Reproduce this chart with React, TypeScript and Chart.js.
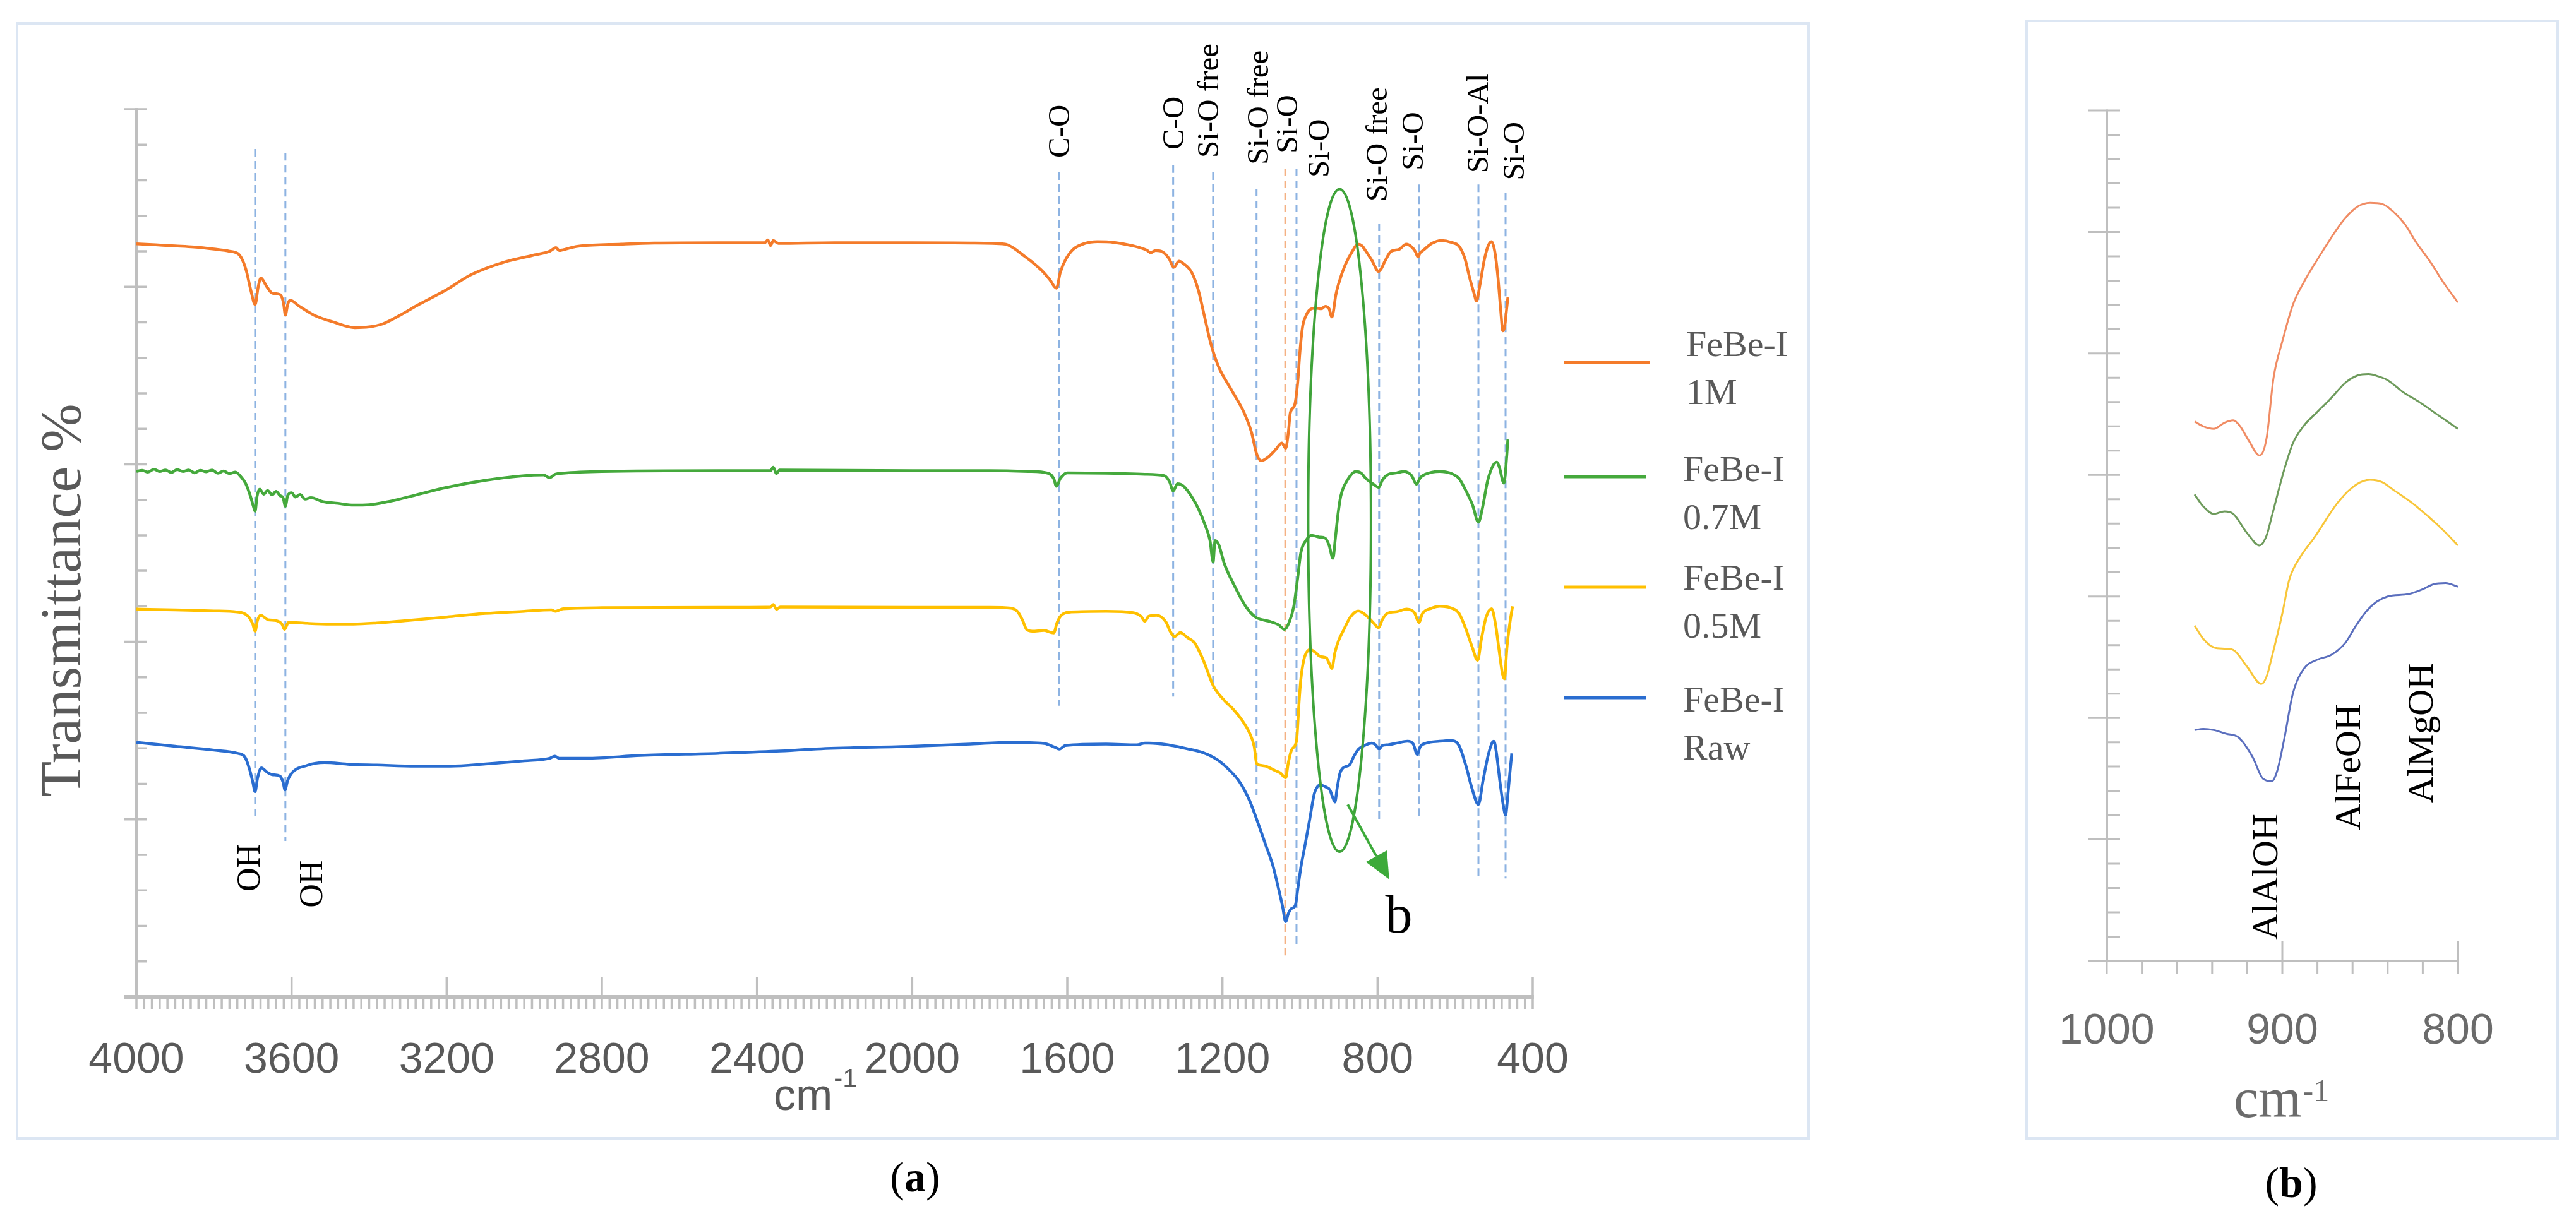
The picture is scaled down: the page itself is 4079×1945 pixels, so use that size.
import React, { useEffect, useRef } from 'react';
import { Chart, registerables } from 'chart.js';

Chart.register(...registerables);

type Pt = [number, number];

// ---------------- Panel (a) data: [wavenumber cm-1, transmittance (offset units)] ----------------
const SERIES_NAMES = ['FeBe-I 1M', 'FeBe-I 0.7M', 'FeBe-I 0.5M', 'FeBe-I Raw'];
const LEGEND_LINES = [['FeBe-I', '1M'], ['FeBe-I', '0.7M'], ['FeBe-I', '0.5M'], ['FeBe-I', 'Raw']];
const X_TICKS_A = [4000, 3600, 3200, 2800, 2400, 2000, 1600, 1200, 800, 400];
const X_TICKS_B = [1000, 900, 800];

const fe1M: Pt[] = [
  [4000, 21.21], [3950, 21.18], [3900, 21.15], [3852, 21.12], [3800, 21.06], [3760, 21.0], [3735, 20.9], [3718, 20.5],
  [3705, 19.9], [3694, 19.5], [3686, 20.0], [3679, 20.25], [3665, 20.02], [3650, 19.82], [3630, 19.78], [3621, 19.55],
  [3616, 19.2], [3610, 19.5], [3604, 19.62], [3580, 19.45], [3542, 19.2], [3490, 19.0], [3437, 18.85], [3400, 18.87],
  [3366, 18.95], [3320, 19.2], [3272, 19.5], [3200, 19.92], [3137, 20.34], [3050, 20.7], [2980, 20.88], [2934, 21.0],
  [2918, 21.1], [2910, 21.02], [2900, 21.04], [2880, 21.1], [2854, 21.15], [2750, 21.2], [2665, 21.23], [2500, 21.24],
  [2380, 21.24], [2372, 21.32], [2365, 21.16], [2358, 21.3], [2345, 21.22], [2200, 21.24], [2000, 21.24], [1850, 21.23],
  [1760, 21.2], [1740, 21.1], [1715, 20.9], [1691, 20.7], [1665, 20.45], [1645, 20.2], [1628, 19.96], [1618, 20.4],
  [1605, 20.75], [1585, 21.05], [1555, 21.22], [1522, 21.27], [1480, 21.25], [1430, 21.15], [1395, 21.03], [1385, 20.96],
  [1372, 21.02], [1354, 20.98], [1338, 20.8], [1325, 20.55], [1312, 20.72], [1300, 20.65], [1279, 20.4], [1262, 19.9],
  [1247, 19.2], [1230, 18.4], [1210, 17.75], [1177, 17.1], [1144, 16.45], [1125, 15.9], [1112, 15.3], [1100, 15.1],
  [1080, 15.22], [1060, 15.45], [1047, 15.6], [1037, 15.45], [1030, 15.9], [1025, 16.45], [1014, 16.66], [1006, 17.3],
  [1000, 18.2], [993, 18.9], [986, 19.15], [975, 19.35], [960, 19.4], [945, 19.38], [935, 19.45], [925, 19.38],
  [918, 19.15], [914, 19.3], [908, 19.75], [900, 20.1], [884, 20.6], [865, 21.0], [851, 21.2], [840, 21.15],
  [830, 21.0], [815, 20.75], [797, 20.43], [790, 20.52], [781, 20.72], [765, 21.0], [745, 21.05], [726, 21.2],
  [712, 21.12], [702, 20.98], [696, 20.84], [690, 20.96], [683, 21.02], [660, 21.22], [635, 21.3], [610, 21.25],
  [590, 21.14], [575, 20.8], [563, 20.27], [551, 19.8], [545, 19.6], [537, 20.0], [525, 20.75], [515, 21.15],
  [506, 21.27], [498, 21.0], [490, 20.3], [483, 19.4], [477, 18.76], [472, 18.9], [468, 19.3], [464, 19.7],
];

const fe07M: Pt[] = [
  [4000, 14.8], [3985, 14.83], [3970, 14.78], [3955, 14.86], [3940, 14.8], [3925, 14.84], [3910, 14.77], [3895, 14.85],
  [3880, 14.8], [3865, 14.84], [3850, 14.76], [3835, 14.83], [3820, 14.79], [3805, 14.84], [3790, 14.75], [3775, 14.81],
  [3760, 14.74], [3745, 14.78], [3730, 14.64], [3718, 14.45], [3706, 14.1], [3698, 13.8], [3694, 13.68], [3689, 14.1],
  [3682, 14.3], [3672, 14.16], [3662, 14.26], [3650, 14.14], [3640, 14.24], [3630, 14.12], [3622, 14.06], [3616, 13.82],
  [3610, 14.12], [3600, 14.2], [3590, 14.08], [3578, 14.15], [3565, 14.02], [3550, 14.06], [3520, 13.95], [3480, 13.9],
  [3440, 13.85], [3400, 13.86], [3350, 13.95], [3300, 14.08], [3200, 14.35], [3100, 14.55], [3000, 14.68], [2950, 14.7],
  [2935, 14.62], [2920, 14.72], [2900, 14.75], [2800, 14.8], [2500, 14.82], [2365, 14.82], [2358, 14.92], [2350, 14.74],
  [2342, 14.84], [2000, 14.82], [1800, 14.82], [1700, 14.8], [1650, 14.75], [1635, 14.6], [1628, 14.38], [1618, 14.6],
  [1600, 14.76], [1500, 14.75], [1400, 14.72], [1350, 14.68], [1336, 14.5], [1327, 14.25], [1316, 14.45], [1300, 14.38],
  [1280, 14.1], [1262, 13.75], [1245, 13.3], [1232, 12.85], [1224, 12.25], [1219, 12.85], [1210, 12.75], [1195, 12.2],
  [1170, 11.6], [1140, 11.0], [1115, 10.7], [1080, 10.58], [1055, 10.48], [1040, 10.35], [1028, 10.55], [1016, 11.0],
  [1006, 11.8], [998, 12.5], [985, 12.85], [970, 13.0], [950, 12.95], [935, 12.92], [925, 12.72], [915, 12.35],
  [909, 12.9], [902, 13.6], [895, 14.1], [878, 14.55], [856, 14.8], [842, 14.75], [830, 14.6], [812, 14.45],
  [797, 14.35], [788, 14.55], [775, 14.7], [750, 14.76], [732, 14.8], [712, 14.68], [700, 14.44], [690, 14.62],
  [677, 14.72], [640, 14.8], [612, 14.75], [590, 14.6], [572, 14.25], [555, 13.85], [540, 13.37], [530, 13.75],
  [516, 14.55], [503, 14.95], [493, 15.06], [485, 14.88], [478, 14.55], [474, 14.47], [469, 14.95], [464, 15.7],
];

const fe05M: Pt[] = [
  [4000, 10.92], [3900, 10.9], [3800, 10.87], [3740, 10.84], [3712, 10.72], [3700, 10.5], [3694, 10.3], [3688, 10.6],
  [3680, 10.75], [3660, 10.62], [3640, 10.6], [3625, 10.5], [3618, 10.35], [3608, 10.55], [3560, 10.52], [3500, 10.5],
  [3440, 10.5], [3380, 10.53], [3300, 10.6], [3200, 10.7], [3100, 10.8], [3000, 10.86], [2930, 10.9], [2920, 10.86],
  [2900, 10.93], [2800, 10.96], [2500, 10.97], [2365, 10.98], [2358, 11.05], [2350, 10.92], [2340, 10.98], [2000, 10.97],
  [1800, 10.97], [1745, 10.95], [1728, 10.85], [1715, 10.6], [1705, 10.35], [1690, 10.3], [1660, 10.32], [1635, 10.25],
  [1626, 10.55], [1615, 10.75], [1590, 10.84], [1500, 10.86], [1430, 10.82], [1410, 10.72], [1400, 10.58], [1390, 10.72],
  [1370, 10.75], [1345, 10.55], [1335, 10.3], [1323, 10.15], [1309, 10.26], [1290, 10.12], [1271, 9.96], [1250, 9.5],
  [1222, 8.73], [1195, 8.35], [1172, 8.1], [1150, 7.8], [1130, 7.43], [1118, 7.05], [1112, 6.58], [1100, 6.52],
  [1089, 6.5], [1065, 6.38], [1050, 6.3], [1037, 6.17], [1030, 6.6], [1022, 6.95], [1012, 7.1], [1008, 7.3],
  [1003, 8.2], [998, 8.93], [990, 9.5], [980, 9.75], [973, 9.78], [960, 9.7], [950, 9.6], [944, 9.58],
  [932, 9.55], [925, 9.4], [918, 9.25], [910, 9.7], [900, 10.05], [889, 10.3], [870, 10.7], [850, 10.87],
  [830, 10.75], [812, 10.55], [797, 10.4], [788, 10.62], [775, 10.8], [750, 10.85], [725, 10.92], [705, 10.82],
  [693, 10.55], [685, 10.78], [660, 10.95], [640, 11.0], [610, 10.95], [590, 10.8], [572, 10.35], [556, 9.85],
  [542, 9.48], [532, 10.1], [520, 10.7], [506, 10.93], [496, 10.5], [486, 9.7], [478, 9.1], [473, 8.96],
  [466, 9.9], [458, 10.6], [452, 11.0],
];

const feRaw: Pt[] = [
  [4000, 7.17], [3900, 7.06], [3800, 6.95], [3740, 6.86], [3720, 6.75], [3708, 6.4], [3700, 6.05], [3694, 5.78],
  [3688, 6.15], [3678, 6.45], [3662, 6.32], [3650, 6.26], [3630, 6.22], [3622, 6.05], [3617, 5.83], [3610, 6.1],
  [3600, 6.3], [3560, 6.52], [3515, 6.6], [3450, 6.55], [3380, 6.53], [3280, 6.5], [3191, 6.5], [3100, 6.56],
  [3000, 6.65], [2935, 6.72], [2921, 6.78], [2910, 6.72], [2840, 6.72], [2700, 6.8], [2500, 6.86], [2350, 6.92],
  [2235, 6.99], [2000, 7.06], [1850, 7.12], [1750, 7.17], [1660, 7.14], [1630, 7.02], [1620, 6.98], [1605, 7.08],
  [1500, 7.12], [1421, 7.1], [1400, 7.15], [1389, 7.15], [1340, 7.1], [1296, 7.0], [1250, 6.88], [1213, 6.68],
  [1185, 6.42], [1156, 6.06], [1130, 5.53], [1110, 4.95], [1089, 4.3], [1070, 3.7], [1056, 3.08], [1045, 2.55],
  [1037, 2.12], [1030, 2.35], [1022, 2.49], [1012, 2.58], [1005, 3.1], [997, 3.7], [989, 4.16], [975, 5.0],
  [963, 5.73], [955, 5.92], [947, 5.97], [935, 5.92], [923, 5.83], [915, 5.6], [910, 5.49], [904, 5.9],
  [897, 6.3], [889, 6.45], [872, 6.54], [860, 6.8], [848, 6.99], [830, 7.1], [815, 7.15], [805, 7.1],
  [796, 6.98], [788, 7.08], [773, 7.1], [750, 7.15], [723, 7.2], [708, 7.12], [698, 6.83], [690, 7.05],
  [674, 7.15], [640, 7.2], [612, 7.22], [591, 7.1], [572, 6.5], [556, 5.85], [540, 5.42], [528, 6.1],
  [515, 6.8], [505, 7.15], [500, 7.2], [494, 6.9], [485, 6.1], [476, 5.4], [470, 5.12], [464, 5.7],
  [459, 6.3], [454, 6.86],
];

// ---------------- Panel (b) data (zoom 1000-800 cm-1) ----------------
const zoom1M: Pt[] = [
  [950, 22.2], [945, 22.0], [939, 21.9], [933, 22.15], [928, 22.25], [924, 22.0], [919, 21.4], [913, 20.8],
  [909, 21.5], [905, 24.0], [900, 25.5], [894, 27.0], [888, 27.9], [878, 29.1], [865, 30.5], [857, 31.05],
  [850, 31.2], [843, 31.15], [837, 30.85], [830, 30.3], [824, 29.6], [816, 28.8], [808, 27.9], [800, 27.1],
];
const zoom07M: Pt[] = [
  [950, 19.2], [945, 18.7], [939, 18.4], [933, 18.5], [928, 18.4], [920, 17.6], [913, 17.1], [909, 17.5],
  [906, 18.3], [899, 20.2], [894, 21.3], [888, 22.0], [880, 22.6], [873, 23.1], [864, 23.8], [857, 24.1],
  [851, 24.15], [845, 24.05], [840, 23.9], [831, 23.4], [822, 23.0], [811, 22.45], [800, 21.9],
];
const zoom05M: Pt[] = [
  [950, 13.8], [945, 13.25], [939, 12.9], [933, 12.85], [928, 12.8], [920, 12.1], [912, 11.4], [909, 11.7],
  [906, 12.5], [900, 14.3], [896, 15.7], [890, 16.6], [882, 17.4], [868, 18.9], [858, 19.6], [850, 19.8],
  [843, 19.7], [837, 19.4], [827, 18.9], [817, 18.3], [808, 17.7], [800, 17.1],
];
const zoomRaw: Pt[] = [
  [950, 9.5], [945, 9.55], [939, 9.5], [932, 9.35], [925, 9.2], [917, 8.4], [911, 7.5], [906, 7.4],
  [903, 7.8], [899, 9.1], [894, 11.0], [888, 12.0], [880, 12.4], [872, 12.6], [864, 13.1], [858, 13.8],
  [852, 14.4], [846, 14.8], [840, 15.0], [828, 15.1], [820, 15.3], [814, 15.5], [807, 15.55], [800, 15.4],
];

// ---------------- Annotations ----------------
const MARKERS_A = [
  { wn: 3694, top: 23.88, bottom: 5.01, text: 'OH', tx: 3710, ty: 2.97, orange: false },
  { wn: 3616, top: 23.77, bottom: 4.39, text: 'OH', tx: 3549, ty: 2.51, orange: false },
  { wn: 1621, top: 23.22, bottom: 8.2, text: 'C-O', tx: 1621, ty: 23.63, orange: false },
  { wn: 1327, top: 23.42, bottom: 8.46, text: 'C-O', tx: 1327, ty: 23.86, orange: false },
  { wn: 1224, top: 23.22, bottom: 8.66, text: 'Si-O free', tx: 1237, ty: 23.63, orange: false },
  { wn: 1112, top: 22.76, bottom: 5.69, text: 'Si-O free', tx: 1109, ty: 23.44, orange: false },
  { wn: 1038, top: 23.33, bottom: 1.17, text: 'Si-O', tx: 1034, ty: 23.76, orange: true },
  { wn: 1009, top: 23.33, bottom: 1.4, text: 'Si-O', tx: 952, ty: 23.08, orange: false },
  { wn: 796, top: 21.78, bottom: 5.01, text: 'Si-O free', tx: 802, ty: 22.4, orange: false },
  { wn: 693, top: 22.88, bottom: 5.05, text: 'Si-O', tx: 709, ty: 23.28, orange: false },
  { wn: 540, top: 22.88, bottom: 3.38, text: 'Si-O-Al', tx: 542, ty: 23.2, orange: false },
  { wn: 470, top: 22.65, bottom: 3.34, text: 'Si-O', tx: 449, ty: 23.0, orange: false },
];
const ELLIPSE_A = { wn: 898, y: 13.42, rWn: 81, rY: 9.33 };
const ARROW_A = { from: [877, 5.42], to: [770, 3.31] };
const NOTE_A = { text: 'b', wn: 745, y: 1.81 };
const LABELS_B = [
  { text: 'AlAlOH', wn: 909.7, y: 0.86 },
  { text: 'AlFeOH', wn: 862.6, y: 5.38 },
  { text: 'AlMgOH', wn: 821.2, y: 6.49 },
];

// ---------------- Styling ----------------
const COLORS_A = ['#F47B2A', '#45A93C', '#FFC000', '#2A6DD0'];
const COLORS_B = ['#F08C64', '#6E9B5C', '#F8C63A', '#5B6FBE'];
const SERIF = '"Liberation Serif", "DejaVu Serif", serif';
const SANS = '"Liberation Sans", Arial, sans-serif';
const AXIS_GRAY = '#BFBFBF';
const TEXT_GRAY = '#595959';
const FRAME_COLOR = '#DCE6F3';
const DASH_BLUE = '#8DB3E2';
const DASH_ORANGE = '#F4B183';

const LEGEND_ROWS = [
  { lineY: 574, x1: 2477, x2: 2612, textX: 2670, baseline: 564 },
  { lineY: 755, x1: 2477, x2: 2606, textX: 2665, baseline: 762 },
  { lineY: 930, x1: 2477, x2: 2606, textX: 2665, baseline: 934 },
  { lineY: 1105, x1: 2477, x2: 2606, textX: 2665, baseline: 1127 },
];

function rotatedText(ctx: any, text: string, cx: number, bottom: number, size: number, color: string, font = SERIF) {
  ctx.save();
  ctx.font = `${size}px ${font}`;
  ctx.fillStyle = color;
  ctx.translate(cx + size * 0.33, bottom);
  ctx.rotate(-Math.PI / 2);
  ctx.textAlign = 'left';
  ctx.textBaseline = 'alphabetic';
  ctx.fillText(text, 0, 0);
  ctx.restore();
}

function caption(ctx: any, letter: string, cx: number, baseline: number) {
  ctx.save();
  ctx.fillStyle = '#000';
  ctx.textAlign = 'left';
  ctx.textBaseline = 'alphabetic';
  const reg = `68px ${SERIF}`;
  const bold = `bold 68px ${SERIF}`;
  ctx.font = reg;
  const wp = ctx.measureText('(').width;
  const wc = ctx.measureText(')').width;
  ctx.font = bold;
  const wl = ctx.measureText(letter).width;
  let x = cx - (wp + wl + wc) / 2;
  ctx.font = reg; ctx.fillText('(', x, baseline); x += wp;
  ctx.font = bold; ctx.fillText(letter, x, baseline); x += wl;
  ctx.font = reg; ctx.fillText(')', x, baseline);
  ctx.restore();
}

function drawAxes(ctx: any, x: any, y: any, o: any) {
  const x0 = x.getPixelForValue(o.xMax);
  const x1 = x.getPixelForValue(o.xMin);
  const yb = y.getPixelForValue(0);
  const yt = y.getPixelForValue(o.yMax);
  ctx.save();
  ctx.strokeStyle = AXIS_GRAY;
  ctx.lineWidth = o.tickW;
  ctx.beginPath();
  for (let v = o.xMax; v >= o.xMin; v -= o.minorStep) {
    const p = x.getPixelForValue(v);
    ctx.moveTo(p, yb); ctx.lineTo(p, yb + o.minorLen);
  }
  for (const v of o.majors) {
    if (v === o.xMax) continue;
    const p = x.getPixelForValue(v);
    ctx.moveTo(p, yb - o.majorUp); ctx.lineTo(p, yb);
  }
  for (let i = 1; i <= o.yMax; i++) {
    const p = y.getPixelForValue(i);
    ctx.moveTo(i % 5 === 0 ? x0 - o.majorLeft : x0, p);
    ctx.lineTo(x0 + o.yTickLen, p);
  }
  ctx.stroke();
  ctx.lineWidth = o.axisW;
  ctx.beginPath();
  ctx.moveTo(x0 - o.majorLeft, yb); ctx.lineTo(x1 + o.tickW / 2, yb);
  ctx.moveTo(x0, yb + o.axisW / 2); ctx.lineTo(x0, yt - o.tickW / 2);
  ctx.stroke();
  // tick labels
  ctx.fillStyle = o.labelColor;
  ctx.font = `68px ${SANS}`;
  ctx.textAlign = 'center';
  ctx.textBaseline = 'alphabetic';
  for (const v of o.majors) {
    ctx.fillText(String(v), x.getPixelForValue(v), yb + o.labelOffset);
  }
  ctx.restore();
}

const panelAPlugin = {
  id: 'panelA',
  beforeDatasetsDraw(chart: any) {
    const { ctx } = chart;
    const x = chart.scales.x;
    const y = chart.scales.y;
    ctx.save();
    ctx.strokeStyle = FRAME_COLOR;
    ctx.lineWidth = 4;
    ctx.strokeRect(27, 37, 2837, 1766);
    ctx.restore();
    drawAxes(ctx, x, y, {
      xMin: 400, xMax: 4000, yMax: 25, minorStep: 20, minorLen: 19, majorUp: 31, majorLeft: 20,
      yTickLen: 17, tickW: 3.5, axisW: 6, majors: X_TICKS_A, labelOffset: 120, labelColor: TEXT_GRAY,
    });
    ctx.save();
    ctx.lineWidth = 3;
    ctx.setLineDash([12, 7]);
    for (const m of MARKERS_A) {
      const p = x.getPixelForValue(m.wn);
      ctx.strokeStyle = m.orange ? DASH_ORANGE : DASH_BLUE;
      ctx.beginPath();
      ctx.moveTo(p, y.getPixelForValue(m.top));
      ctx.lineTo(p, y.getPixelForValue(m.bottom));
      ctx.stroke();
    }
    ctx.restore();
  },
  afterDatasetsDraw(chart: any) {
    const { ctx } = chart;
    const x = chart.scales.x;
    const y = chart.scales.y;
    ctx.save();
    // ellipse
    const cx = x.getPixelForValue(ELLIPSE_A.wn);
    const cy = y.getPixelForValue(ELLIPSE_A.y);
    const rx = Math.abs(x.getPixelForValue(ELLIPSE_A.wn + ELLIPSE_A.rWn) - cx);
    const ry = Math.abs(y.getPixelForValue(ELLIPSE_A.y + ELLIPSE_A.rY) - cy);
    ctx.strokeStyle = '#3FA33A';
    ctx.lineWidth = 4;
    ctx.beginPath();
    ctx.ellipse(cx, cy, rx, ry, 0, 0, Math.PI * 2);
    ctx.stroke();
    // arrow
    const ax0 = x.getPixelForValue(ARROW_A.from[0]);
    const ay0 = y.getPixelForValue(ARROW_A.from[1]);
    const ax1 = x.getPixelForValue(ARROW_A.to[0]);
    const ay1 = y.getPixelForValue(ARROW_A.to[1]);
    const ang = Math.atan2(ay1 - ay0, ax1 - ax0);
    const hl = 42, hw = 19;
    const bx = ax1 - hl * Math.cos(ang);
    const by = ay1 - hl * Math.sin(ang);
    ctx.strokeStyle = '#3DAA3A';
    ctx.fillStyle = '#3DAA3A';
    ctx.beginPath();
    ctx.moveTo(ax0, ay0); ctx.lineTo(bx, by);
    ctx.stroke();
    ctx.beginPath();
    ctx.moveTo(ax1, ay1);
    ctx.lineTo(bx + hw * Math.sin(ang), by - hw * Math.cos(ang));
    ctx.lineTo(bx - hw * Math.sin(ang), by + hw * Math.cos(ang));
    ctx.closePath();
    ctx.fill();
    // "b"
    ctx.fillStyle = '#000';
    ctx.font = `86px ${SERIF}`;
    ctx.textAlign = 'center';
    ctx.textBaseline = 'alphabetic';
    ctx.fillText(NOTE_A.text, x.getPixelForValue(NOTE_A.wn), y.getPixelForValue(NOTE_A.y));
    ctx.restore();
    // marker labels
    for (const m of MARKERS_A) {
      rotatedText(ctx, m.text, x.getPixelForValue(m.tx), y.getPixelForValue(m.ty), m.text === 'OH' ? 52 : 49, '#000');
    }
    // legend
    ctx.save();
    chart.data.datasets.forEach((ds: any, i: number) => {
      const r = LEGEND_ROWS[i];
      ctx.strokeStyle = ds.borderColor;
      ctx.lineWidth = 5;
      ctx.beginPath();
      ctx.moveTo(r.x1, r.lineY); ctx.lineTo(r.x2, r.lineY);
      ctx.stroke();
      ctx.fillStyle = TEXT_GRAY;
      ctx.font = `58px ${SERIF}`;
      ctx.textAlign = 'left';
      ctx.textBaseline = 'alphabetic';
      LEGEND_LINES[i].forEach((t, k) => ctx.fillText(t, r.textX, r.baseline + k * 76));
    });
    // axis titles
    ctx.fillStyle = TEXT_GRAY;
    ctx.font = `70px ${SANS}`;
    ctx.textAlign = 'left';
    ctx.fillText('cm', 1225, 1758);
    const wcm = ctx.measureText('cm').width;
    ctx.font = `42px ${SANS}`;
    ctx.fillText('-1', 1225 + wcm + 2, 1722);
    ctx.restore();
    rotatedText(ctx, 'Transmittance %', 97, 1262, 92, TEXT_GRAY);
    caption(ctx, 'a', 1449, 1887);
  },
};

const panelBPlugin = {
  id: 'panelB',
  beforeDatasetsDraw(chart: any) {
    const { ctx } = chart;
    const x = chart.scales.x;
    const y = chart.scales.y;
    ctx.save();
    ctx.strokeStyle = FRAME_COLOR;
    ctx.lineWidth = 4;
    ctx.strokeRect(309, 33, 841, 1770);
    ctx.restore();
    drawAxes(ctx, x, y, {
      xMin: 800, xMax: 1000, yMax: 35, minorStep: 20, minorLen: 21, majorUp: 31, majorLeft: 30,
      yTickLen: 21, tickW: 3, axisW: 4, majors: X_TICKS_B, labelOffset: 131, labelColor: '#6B6B6B',
    });
  },
  afterDatasetsDraw(chart: any) {
    const { ctx } = chart;
    const x = chart.scales.x;
    const y = chart.scales.y;
    for (const l of LABELS_B) {
      rotatedText(ctx, l.text, x.getPixelForValue(l.wn), y.getPixelForValue(l.y), 58, '#000');
    }
    ctx.save();
    ctx.fillStyle = '#6B6B6B';
    ctx.font = `88px ${SERIF}`;
    ctx.textAlign = 'left';
    ctx.textBaseline = 'alphabetic';
    ctx.fillText('cm', 637, 1769);
    const w = ctx.measureText('cm').width;
    ctx.font = `50px ${SERIF}`;
    ctx.fillText('-1', 637 + w + 2, 1744);
    ctx.restore();
    caption(ctx, 'b', 728, 1896);
  },
};

function makeConfig(series: Pt[][], colors: string[], width: number, pad: any, xr: number[], yMax: number, plugin: any) {
  return {
    type: 'line' as const,
    data: {
      datasets: series.map((s, i) => ({
        label: SERIES_NAMES[i],
        data: s.map(([xv, yv]) => ({ x: xv, y: yv })),
        borderColor: colors[i],
        backgroundColor: colors[i],
        borderWidth: width,
        pointRadius: 0,
        fill: false,
        cubicInterpolationMode: 'monotone' as const,
      })),
    },
    options: {
      responsive: false,
      animation: false as const,
      devicePixelRatio: 1,
      events: [],
      layout: { padding: pad },
      plugins: { legend: { display: false }, tooltip: { enabled: false }, title: { display: false } },
      scales: {
        x: { type: 'linear' as const, reverse: true, min: xr[0], max: xr[1], display: false },
        y: { type: 'linear' as const, min: 0, max: yMax, display: false },
      },
    },
    plugins: [plugin],
  };
}

export default function App() {
  const refA = useRef<HTMLCanvasElement>(null);
  const refB = useRef<HTMLCanvasElement>(null);

  useEffect(() => {
    document.body.style.margin = '0';
    const a = new Chart(refA.current as HTMLCanvasElement, makeConfig(
      [fe1M, fe07M, fe05M, feRaw], COLORS_A, 4.5,
      { left: 216, top: 173, right: 2900 - 2427, bottom: 1945 - 1579 },
      [400, 4000], 25, panelAPlugin,
    ) as any);
    const b = new Chart(refB.current as HTMLCanvasElement, makeConfig(
      [zoom1M, zoom07M, zoom05M, zoomRaw], COLORS_B, 3,
      { left: 436, top: 175, right: 1179 - 992, bottom: 1945 - 1522 },
      [800, 1000], 35, panelBPlugin,
    ) as any);
    return () => { a.destroy(); b.destroy(); };
  }, []);

  return (
    <div style={{ position: 'relative', width: 4079, height: 1945, background: '#fff', overflow: 'hidden' }}>
      <canvas ref={refA} width={2900} height={1945}
        style={{ position: 'absolute', left: 0, top: 0, width: 2900, height: 1945 }} />
      <canvas ref={refB} width={1179} height={1945}
        style={{ position: 'absolute', left: 2900, top: 0, width: 1179, height: 1945 }} />
    </div>
  );
}
